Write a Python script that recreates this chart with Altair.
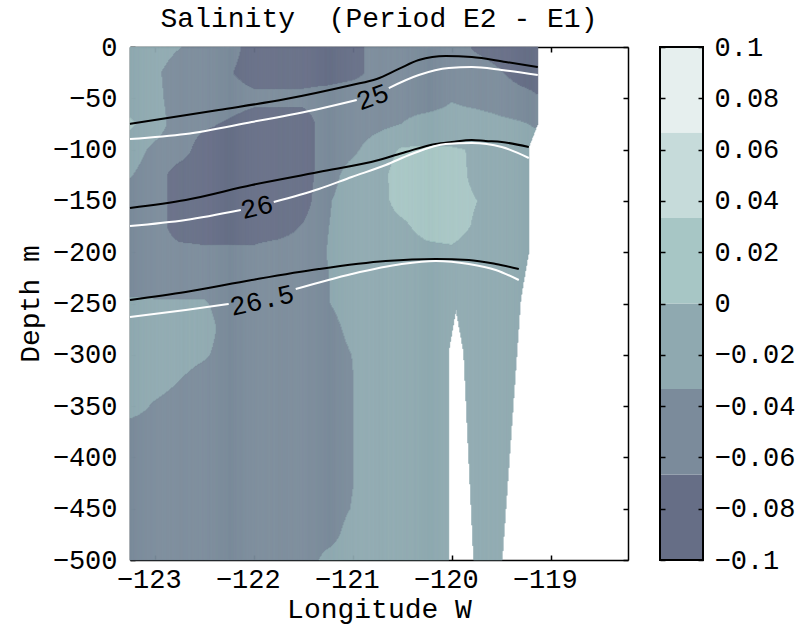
import altair as alt
import numpy as np
import pandas as pd

FONT = "Liberation Mono"

# ---- salinity difference (psu) on a longitude x depth grid ----
grid_lon = [-123.25, -123.0, -122.75, -122.5, -122.25, -122.0, -121.75, -121.5,
            -121.25, -121.0, -120.75, -120.5, -120.25, -120.0, -119.75, -119.5,
            -119.25, -119.0]
grid_depth = [0, 25, 50, 75, 100, 125, 150, 175, 200, 225, 250,
              275, 300, 325, 350, 375, 400, 425, 450, 475, 500]
dsal = [
    [-0.0167, -0.0167, -0.0317, -0.0500, -0.0500, -0.0833, -0.0833, -0.0833, -0.0833, -0.0833, -0.0500, -0.0500, -0.0500, -0.0500, -0.0717, -0.0833, -0.0833, -0.0833],
    [-0.0167, -0.0267, -0.0500, -0.0500, -0.0633, -0.0833, -0.0833, -0.0833, -0.0833, -0.0767, -0.0567, -0.0500, -0.0500, -0.0500, -0.0500, -0.0647, -0.0833, -0.0833],
    [-0.0167, -0.0233, -0.0500, -0.0500, -0.0500, -0.0567, -0.0567, -0.0567, -0.0500, -0.0433, -0.0500, -0.0500, -0.0553, -0.0363, -0.0453, -0.0500, -0.0557, -0.0733],
    [0.0060, -0.0167, -0.0500, -0.0605, -0.0708, -0.0833, -0.0833, -0.0833, -0.0500, -0.0500, -0.0423, -0.0330, -0.0167, -0.0167, -0.0167, -0.0260, -0.0323, -0.0433],
    [-0.0167, -0.0403, -0.0500, -0.0833, -0.0833, -0.0833, -0.0833, -0.0833, -0.0500, -0.0400, -0.0167, 0.0033, 0.0027, 0.0020, -0.0017, -0.0167, -0.0167, -0.0167],
    [-0.0307, -0.0500, -0.0833, -0.0833, -0.0833, -0.0833, -0.0833, -0.0833, -0.0467, -0.0200, -0.0133, 0.0167, 0.0167, 0.0167, -0.0100, -0.0167, -0.0167, -0.0167],
    [-0.0500, -0.0500, -0.0833, -0.0833, -0.0833, -0.0833, -0.0833, -0.0833, -0.0367, -0.0167, -0.0133, 0.0133, 0.0167, 0.0167, 0.0007, -0.0167, -0.0167, -0.0167],
    [-0.0500, -0.0500, -0.0833, -0.0833, -0.0833, -0.0833, -0.0833, -0.0643, -0.0343, -0.0167, -0.0133, -0.0067, 0.0133, 0.0167, -0.0050, -0.0167, -0.0167, -0.0167],
    [-0.0500, -0.0500, -0.0557, -0.0603, -0.0603, -0.0603, -0.0500, -0.0500, -0.0323, -0.0167, -0.0167, -0.0167, -0.0103, -0.0067, -0.0167, -0.0167, -0.0167, -0.0167],
    [-0.0500, -0.0500, -0.0500, -0.0500, -0.0500, -0.0500, -0.0500, -0.0500, -0.0343, -0.0167, -0.0167, -0.0167, -0.0167, -0.0167, -0.0167, -0.0167, -0.0167, -0.0167],
    [-0.0277, -0.0297, -0.0297, -0.0297, -0.0500, -0.0500, -0.0500, -0.0500, -0.0350, -0.0167, -0.0167, -0.0167, -0.0167, -0.0167, -0.0167, -0.0167, -0.0167, -0.0167],
    [-0.0167, -0.0167, -0.0167, -0.0167, -0.0500, -0.0500, -0.0500, -0.0500, -0.0467, -0.0233, -0.0167, -0.0167, -0.0167, -0.0167, -0.0167, -0.0167, -0.0167, -0.0167],
    [-0.0167, -0.0167, -0.0167, -0.0280, -0.0500, -0.0500, -0.0500, -0.0500, -0.0500, -0.0327, -0.0167, -0.0167, -0.0167, -0.0167, -0.0167, -0.0167, -0.0167, -0.0167],
    [-0.0167, -0.0167, -0.0327, -0.0500, -0.0500, -0.0500, -0.0500, -0.0500, -0.0500, -0.0343, -0.0167, -0.0167, -0.0167, -0.0167, -0.0167, -0.0167, -0.0167, -0.0167],
    [-0.0167, -0.0375, -0.0500, -0.0500, -0.0500, -0.0500, -0.0500, -0.0500, -0.0500, -0.0343, -0.0167, -0.0167, -0.0167, -0.0167, -0.0167, -0.0167, -0.0167, -0.0167],
    [-0.0500, -0.0500, -0.0500, -0.0500, -0.0500, -0.0500, -0.0500, -0.0500, -0.0500, -0.0343, -0.0167, -0.0167, -0.0167, -0.0167, -0.0167, -0.0167, -0.0167, -0.0167],
    [-0.0500, -0.0500, -0.0500, -0.0500, -0.0500, -0.0500, -0.0500, -0.0500, -0.0500, -0.0343, -0.0167, -0.0167, -0.0167, -0.0167, -0.0167, -0.0167, -0.0167, -0.0167],
    [-0.0500, -0.0500, -0.0500, -0.0500, -0.0500, -0.0500, -0.0500, -0.0500, -0.0500, -0.0343, -0.0167, -0.0167, -0.0167, -0.0167, -0.0167, -0.0167, -0.0167, -0.0167],
    [-0.0500, -0.0500, -0.0500, -0.0500, -0.0500, -0.0500, -0.0500, -0.0500, -0.0500, -0.0317, -0.0167, -0.0167, -0.0167, -0.0167, -0.0167, -0.0167, -0.0167, -0.0167],
    [-0.0500, -0.0500, -0.0500, -0.0500, -0.0500, -0.0500, -0.0500, -0.0500, -0.0467, -0.0200, -0.0167, -0.0167, -0.0167, -0.0167, -0.0167, -0.0167, -0.0167, -0.0167],
    [-0.0500, -0.0500, -0.0500, -0.0500, -0.0500, -0.0500, -0.0500, -0.0500, -0.0233, -0.0167, -0.0167, -0.0167, -0.0167, -0.0167, -0.0167, -0.0167, -0.0167, -0.0167],
]

# contour levels and their colours
level_bounds = [-0.1, -0.0667, -0.0333, 0.0, 0.0333, 0.0667, 0.1]
level_colors = ["#666e86", "#7b8b9b", "#8fa9b0", "#a7c6c5", "#c6dbda", "#e6efee"]
cbar_ticks = [-0.1, -0.08, -0.06, -0.04, -0.02, 0.0, 0.02, 0.04, 0.06, 0.08, 0.1]

# extent of the observations (no data east of this edge / inside the gap)
edge_depth = [0, 75, 97.5, 200, 245, 500]
edge_lon = [-119.131, -119.131, -119.222, -119.222, -119.303, -119.492]
gap_west_depth = [255.4, 295.3, 500]
gap_west_lon = [-119.957, -120.030, -120.030]
gap_east_depth = [255.4, 297.3, 500]
gap_east_lon = [-119.957, -119.879, -119.778]

# isopycnals (sigma-theta) for the two periods
black_25_lon = [-123.25, -122.354, -121.677, -121.010, -120.758, -120.535, -120.333, -120.061, -119.798, -119.455, -119.131]
black_25_dep = [-75.0, -61.4, -50.7, -37.0, -31.2, -21.4, -12.7, -8.8, -9.7, -14.6, -19.5]
black_26_lon = [-123.25, -122.687, -122.020, -121.343, -120.737, -120.465, -120.162, -120.0, -119.798, -119.657, -119.495, -119.222]
black_26_dep = [-156.9, -149.1, -134.5, -121.8, -110.1, -102.3, -94.5, -92.6, -90.6, -91.6, -92.6, -97.5]
black_265_lon = [-123.25, -122.687, -122.020, -121.343, -120.667, -120.162, -119.828, -119.556, -119.323]
black_265_dep = [-246.6, -238.8, -227.1, -216.4, -208.6, -206.6, -207.6, -211.5, -216.4]

white_25a_lon = [-123.25, -122.687, -122.020, -121.343, -120.960]
white_25a_dep = [-89.7, -84.8, -73.1, -60.4, -51.7]
white_25b_lon = [-120.636, -120.333, -120.030, -119.798, -119.495, -119.131]
white_25b_dep = [-40.0, -27.3, -20.5, -19.5, -22.4, -27.3]
white_26a_lon = [-123.25, -122.687, -122.131]
white_26a_dep = [-174.5, -168.6, -158.9]
white_26b_lon = [-121.798, -121.343, -121.010, -120.667, -120.404, -120.061, -119.798, -119.495, -119.222]
white_26b_dep = [-151.1, -138.4, -126.7, -115.0, -104.3, -94.5, -93.6, -97.5, -108.2]
white_265a_lon = [-123.25, -122.687, -122.253]
white_265a_dep = [-263.2, -256.3, -250.5]
white_265b_lon = [-121.576, -121.010, -120.505, -120.162, -119.828, -119.556, -119.323]
white_265b_dep = [-235.9, -221.2, -211.5, -208.6, -211.5, -217.3, -227.1]

label_text = ["25", "26", "26.5"]
label_lon = [-120.798, -121.967, -121.916]
label_dep = [-49.4, -156.6, -247.6]
label_angle = [340, 346, 347]

# ---- filled contours: bilinear field sampled in thin columns ----
G = np.array(dsal)
inner = np.array(level_bounds[1:-1])
lon_edges = np.round(-123.25 + 0.01 * np.arange(413), 4)
d_edges = np.arange(0, 501, 1.0)
dc = d_edges[:-1] + 0.5
right_edge = np.interp(dc, edge_depth, edge_lon)
west = np.interp(dc, gap_west_depth, gap_west_lon)
east = np.interp(dc, gap_east_depth, gap_east_lon)
in_gap_depth = dc >= gap_west_depth[0]

cells = []
for k in range(len(lon_edges) - 1):
    a, b = lon_edges[k], lon_edges[k + 1]
    c = 0.5 * (a + b)
    prof = np.array([np.interp(c, grid_lon, row) for row in G])
    vals = np.interp(dc, grid_depth, prof)
    lvl = np.digitize(vals, inner)
    lvl[c > right_edge] = -1
    lvl[in_gap_depth & (c >= west) & (c <= east)] = -1
    start = 0
    n = len(dc)
    for i in range(1, n + 1):
        if i == n or lvl[i] != lvl[start]:
            if lvl[start] >= 0:
                cells.append((a, b, -d_edges[start], -d_edges[i], int(lvl[start])))
            start = i
fill_df = pd.DataFrame(cells, columns=["lon0", "lon1", "dep0", "dep1", "lvl"])


def line_frame(pairs):
    parts = []
    for seg, (lo, de) in enumerate(pairs):
        parts.append(pd.DataFrame({"lon": lo, "dep": de, "seg": seg}))
    return pd.concat(parts, ignore_index=True)


black_df = line_frame([(black_25_lon, black_25_dep), (black_26_lon, black_26_dep),
                       (black_265_lon, black_265_dep)])
white_df = line_frame([(white_25a_lon, white_25a_dep), (white_25b_lon, white_25b_dep),
                       (white_26a_lon, white_26a_dep), (white_26b_lon, white_26b_dep),
                       (white_265a_lon, white_265a_dep), (white_265b_lon, white_265b_dep)])
label_df = pd.DataFrame({"txt": label_text, "lon": label_lon, "dep": label_dep,
                         "ang": label_angle})
anchor_df = pd.DataFrame({"lon": [-121.0], "dep": [-250.0]})

W, H = 498, 513
xs = alt.Scale(domain=[-123.25, -118.22], nice=False, zero=False)
ys = alt.Scale(domain=[-500, 0], nice=False, zero=False)
lvl_scale = alt.Scale(domain=list(range(6)), range=level_colors)
x_vals = [-123, -122, -121, -120, -119]
y_vals = list(range(-500, 1, 50))
txt = dict(labelFont=FONT, labelFontSize=27, labelColor="black",
           titleFont=FONT, titleFontSize=28, titleFontWeight="normal", titleColor="black")

fill = alt.Chart(fill_df).mark_rect(strokeWidth=0.6).encode(
    x=alt.X("lon0:Q", scale=xs, axis=alt.Axis(
        title="Longitude W", values=x_vals, format="d", ticks=False, grid=False,
        domainColor="black", domainWidth=1.5, labelPadding=6, labelOffset=-6,
        titlePadding=3, labelFlush=False, **txt)),
    x2="lon1:Q",
    y=alt.Y("dep0:Q", scale=ys, axis=alt.Axis(
        title="Depth m", values=y_vals, format="d", ticks=False, grid=False,
        domainColor="black", domainWidth=1.5, labelPadding=13, titlePadding=8,
        labelFlush=False, **txt)),
    y2="dep1:Q",
    color=alt.Color("lvl:O", scale=lvl_scale, legend=None),
    stroke=alt.Stroke("lvl:O", scale=lvl_scale, legend=None),
)

black = alt.Chart(black_df).mark_line(color="black", strokeWidth=2, interpolate="monotone").encode(
    x=alt.X("lon:Q", scale=xs, axis=None), y=alt.Y("dep:Q", scale=ys, axis=None),
    detail="seg:N")
white = alt.Chart(white_df).mark_line(color="white", strokeWidth=2, interpolate="monotone").encode(
    x=alt.X("lon:Q", scale=xs, axis=None), y=alt.Y("dep:Q", scale=ys, axis=None),
    detail="seg:N")
labels = alt.Chart(label_df).mark_text(font=FONT, fontSize=27, color="black").encode(
    x=alt.X("lon:Q", scale=xs, axis=None), y=alt.Y("dep:Q", scale=ys, axis=None),
    text="txt:N", angle=alt.Angle("ang:Q", scale=None))

# box on the top and right edges
frame = alt.Chart(anchor_df).mark_point(opacity=0).encode(
    x=alt.X("lon:Q", scale=xs, axis=alt.Axis(orient="top", labels=False, ticks=False,
            grid=False, title=None, domainColor="black", domainWidth=1.5)),
    y=alt.Y("dep:Q", scale=ys, axis=alt.Axis(orient="right", labels=False, ticks=False,
            grid=False, title=None, domainColor="black", domainWidth=1.5)))
# inward tick marks (top/right)
ticks_tr = alt.Chart(anchor_df).mark_point(opacity=0).encode(
    x=alt.X("lon:Q", scale=xs, axis=alt.Axis(orient="top", values=x_vals, labels=False,
            domain=False, grid=False, title=None, tickSize=5, offset=-5,
            tickColor="black", tickWidth=1.5)),
    y=alt.Y("dep:Q", scale=ys, axis=alt.Axis(orient="right", values=y_vals, labels=False,
            domain=False, grid=False, title=None, tickSize=5, offset=-5,
            tickColor="black", tickWidth=1.5)))
# inward tick marks (bottom/left)
ticks_bl = alt.Chart(anchor_df).mark_point(opacity=0).encode(
    x=alt.X("lon:Q", scale=xs, axis=alt.Axis(orient="bottom", values=x_vals, labels=False,
            domain=False, grid=False, title=None, tickSize=5, offset=-5,
            tickColor="black", tickWidth=1.5)),
    y=alt.Y("dep:Q", scale=ys, axis=alt.Axis(orient="left", values=y_vals, labels=False,
            domain=False, grid=False, title=None, tickSize=5, offset=-5,
            tickColor="black", tickWidth=1.5)))

main = alt.layer(fill, black, white, labels, frame, ticks_tr, ticks_bl).resolve_axis(
    x="independent", y="independent").properties(
    width=W, height=H,
    title=alt.TitleParams("Salinity\u00a0 (Period E2 - E1)", font=FONT, fontSize=28,
                          fontWeight="normal", color="black", anchor="middle", offset=0))

# ---- colour bar ----
cb_df = pd.DataFrame({"lo": level_bounds[:-1], "hi": level_bounds[1:],
                      "lvl": list(range(6)), "x0": 0.0, "x1": 1.0})
cb_frame_df = pd.DataFrame({"lo": [level_bounds[0]], "hi": [level_bounds[-1]],
                            "x0": [0.0], "x1": [1.0]})
cxs = alt.Scale(domain=[0, 1], nice=False, zero=False)
cys = alt.Scale(domain=[-0.1, 0.1], nice=False, zero=False)
cb_fill = alt.Chart(cb_df).mark_rect().encode(
    x=alt.X("x0:Q", scale=cxs, axis=None), x2="x1:Q",
    y=alt.Y("lo:Q", scale=cys, axis=alt.Axis(
        orient="right", values=cbar_ticks, format="~g", offset=-5, tickSize=5,
        tickColor="black", tickWidth=1.5, domain=False, grid=False, title=None,
        labelPadding=11, labelFlush=False, zindex=1, labelFont=FONT, labelFontSize=27,
        labelColor="black")),
    y2="hi:Q",
    color=alt.Color("lvl:O", scale=lvl_scale, legend=None))
cb_box = alt.Chart(cb_frame_df).mark_rect(fillOpacity=0, stroke="black", strokeWidth=2).encode(
    x=alt.X("x0:Q", scale=cxs, axis=None), x2="x1:Q",
    y=alt.Y("lo:Q", scale=cys, axis=alt.Axis(
        orient="left", values=cbar_ticks, labels=False, offset=-5, tickSize=5,
        tickColor="black", tickWidth=1.5, domain=False, grid=False, title=None, zindex=1)),
    y2="hi:Q")
cbar = alt.layer(cb_fill, cb_box).resolve_axis(y="independent").properties(width=43, height=H)

chart = alt.hconcat(main, cbar, spacing=30).properties(
    padding={"left": 16, "top": 5, "right": 2, "bottom": 2}
).configure_view(stroke=None)

chart.save("out.html", embed_options={"renderer": "svg", "actions": False})
